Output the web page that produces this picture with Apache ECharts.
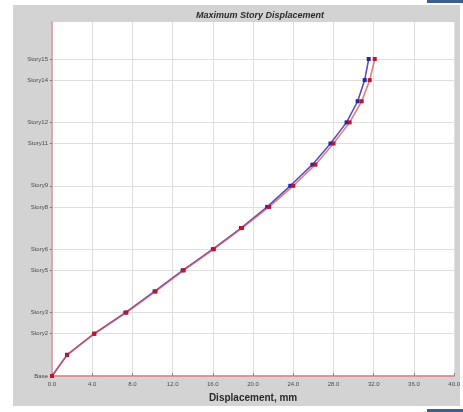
<!DOCTYPE html>
<html>
<head>
<meta charset="utf-8">
<script src="https://cdn.jsdelivr.net/npm/echarts@6/dist/echarts.min.js"></script>
<style>
  html, body { margin: 0; padding: 0; background: #fff; }
  #chart { width: 463px; height: 412px; }
</style>
</head>
<body>
<div id="chart"></div>
<script>
// story levels (0 = Base), labelled ones only
var storyLevels = [0, 2, 3, 5, 6, 8, 9, 11, 12, 14, 15];
var storyNames = ['Base', 'Story2', 'Story3', 'Story5', 'Story6', 'Story8', 'Story9', 'Story11', 'Story12', 'Story14', 'Story15'];

// displacement (mm) per level, Base .. Story15
var dispRed = [0, 1.5, 4.2, 7.4, 10.3, 13.1, 16.1, 18.9, 21.6, 24.0, 26.2, 28.0, 29.6, 30.8, 31.6, 32.1];
var dispBlue = [0, 1.5, 4.2, 7.3, 10.2, 13.0, 16.0, 18.8, 21.4, 23.7, 25.9, 27.7, 29.3, 30.4, 31.1, 31.5];

function toPoints(arr) {
  return arr.map(function(v, i) { return [v, i]; });
}

var chart = echarts.init(document.getElementById('chart'));

var option = {
  backgroundColor: '#fff',
  animation: false,
  title: {
    text: 'Maximum Story Displacement',
    left: 255,
    top: 6,
    textAlign: 'center',
    textStyle: {
      fontFamily: 'Liberation Sans',
      fontSize: 9,
      fontWeight: 'bold',
      fontStyle: 'italic',
      color: '#2a2a2a'
    }
  },
  graphic: [
    {type: 'rect', z: -10, shape: {x: 13, y: 5, width: 447, height: 401}, style: {fill: '#d3d3d3'}},
    {type: 'rect', z: -10, shape: {x: 427, y: 0, width: 36, height: 3}, style: {fill: '#3c5f8f'}},
    {type: 'rect', z: -10, shape: {x: 427, y: 409, width: 36, height: 3}, style: {fill: '#3c5f8f'}}
  ],
  grid: {
    left: 52,
    top: 22,
    right: 3,
    bottom: 36,
    show: true,
    backgroundColor: '#fff',
    borderWidth: 0
  },
  xAxis: {
    type: 'value',
    min: 0,
    max: 40,
    interval: 4,
    name: 'Displacement, mm',
    nameLocation: 'middle',
    nameGap: 17,
    nameTextStyle: {
      fontFamily: 'Liberation Sans',
      fontSize: 10,
      fontWeight: 'bold',
      color: '#2a2a2a'
    },
    axisLine: {lineStyle: {color: '#d87878', width: 1.5}},
    axisTick: {show: true, length: 3, inside: true, lineStyle: {color: '#888'}},
    axisLabel: {
      fontFamily: 'Liberation Sans',
      fontSize: 6,
      color: '#4a4a4a',
      margin: 5,
      formatter: function(v) { return v.toFixed(1); }
    },
    splitLine: {show: true, lineStyle: {color: '#dedede', width: 1}}
  },
  yAxis: {
    type: 'value',
    min: 0,
    max: 16.75,
    axisLine: {show: true, lineStyle: {color: '#dc9a9a', width: 1.5}},
    axisTick: {show: true, length: 2, customValues: storyLevels, lineStyle: {color: '#777'}},
    axisLabel: {
      fontFamily: 'Liberation Sans',
      fontSize: 6,
      color: '#4a4a4a',
      margin: 4,
      customValues: storyLevels,
      formatter: function(v) {
        var k = storyLevels.indexOf(Math.round(v));
        return k >= 0 ? storyNames[k] : '';
      }
    },
    splitLine: {show: true, lineStyle: {color: '#dedede', width: 1}}
  },
  series: [
    {
      type: 'line',
      data: toPoints(dispBlue),
      symbol: 'rect',
      symbolSize: 4,
      lineStyle: {color: '#5a50b8', width: 1.6},
      itemStyle: {color: '#2a22a8'},
      z: 3
    },
    {
      type: 'line',
      data: toPoints(dispRed),
      symbol: 'rect',
      symbolSize: 4,
      lineStyle: {color: 'rgba(224,80,92,0.75)', width: 1.6},
      itemStyle: {color: '#c0142a'},
      z: 4
    }
  ]
};

chart.setOption(option);
</script>
</body>
</html>
